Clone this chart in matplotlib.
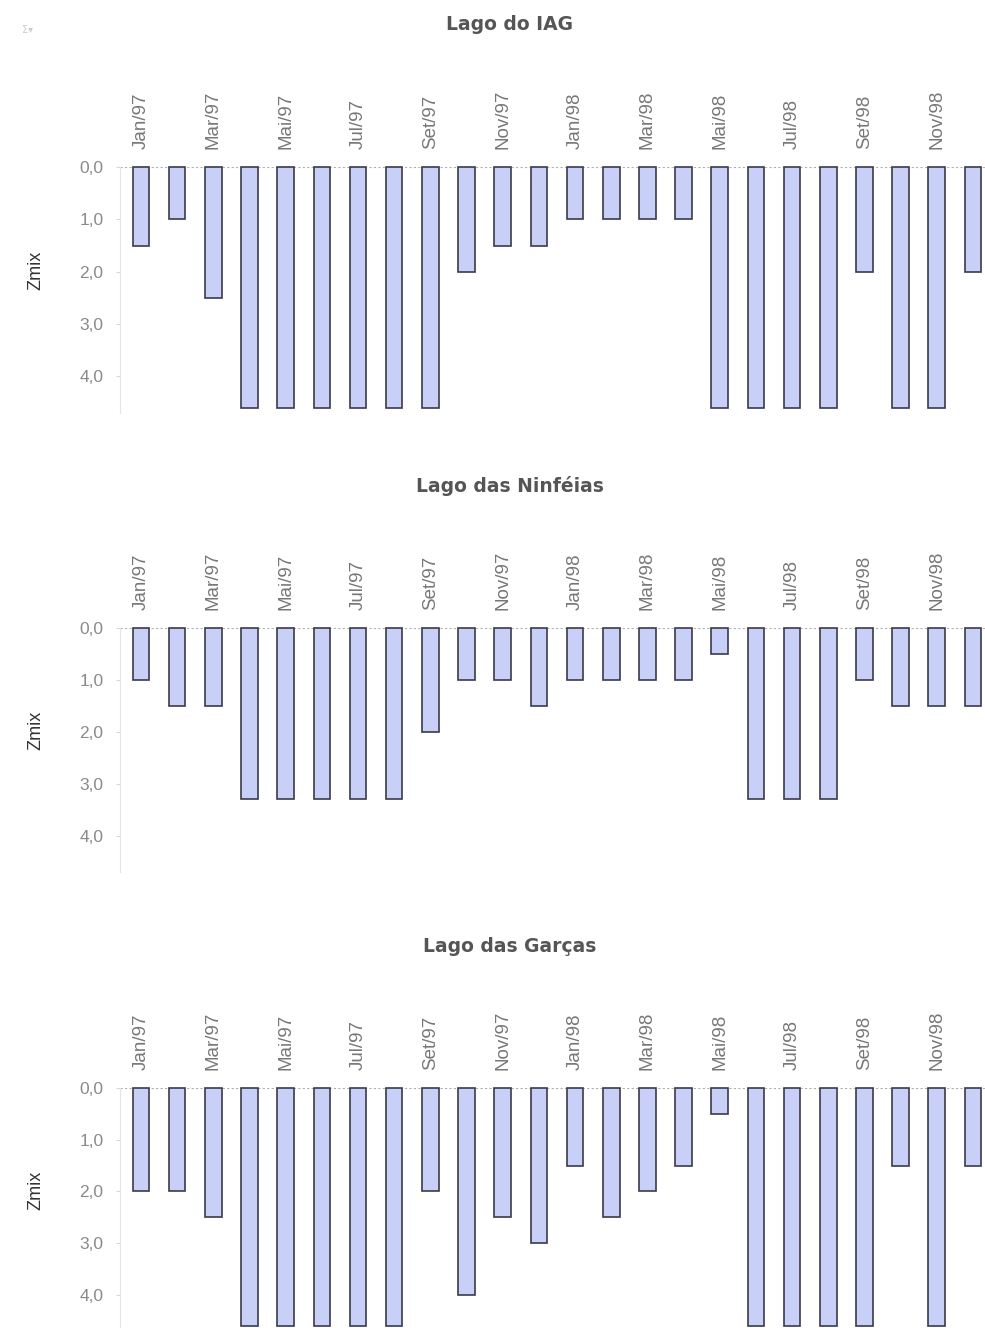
import matplotlib.pyplot as plt

plt.rcParams['font.family'] = ['Liberation Sans', 'DejaVu Sans']

months = ["Jan/97", "Fev/97", "Mar/97", "Abr/97", "Mai/97", "Jun/97",
          "Jul/97", "Ago/97", "Set/97", "Out/97", "Nov/97", "Dez/97",
          "Jan/98", "Fev/98", "Mar/98", "Abr/98", "Mai/98", "Jun/98",
          "Jul/98", "Ago/98", "Set/98", "Out/98", "Nov/98", "Dez/98"]

zmix_iag = [1.5, 1.0, 2.5, 4.6, 4.6, 4.6, 4.6, 4.6, 4.6, 2.0, 1.5, 1.5,
            1.0, 1.0, 1.0, 1.0, 4.6, 4.6, 4.6, 4.6, 2.0, 4.6, 4.6, 2.0]
zmix_ninfeias = [1.0, 1.5, 1.5, 3.3, 3.3, 3.3, 3.3, 3.3, 2.0, 1.0, 1.0, 1.5,
                 1.0, 1.0, 1.0, 1.0, 0.5, 3.3, 3.3, 3.3, 1.0, 1.5, 1.5, 1.5]
zmix_garcas = [2.0, 2.0, 2.5, 4.6, 4.6, 4.6, 4.6, 4.6, 2.0, 4.0, 2.5, 3.0,
               1.5, 2.5, 2.0, 1.5, 0.5, 4.6, 4.6, 4.6, 4.6, 1.5, 4.6, 1.5]

titles = ["Lago do IAG", "Lago das Ninféias", "Lago das Garças"]
series = [zmix_iag, zmix_ninfeias, zmix_garcas]
yticks = [0.0, 1.0, 2.0, 3.0, 4.0]

W, H = 985, 1328
fig = plt.figure(figsize=(W / 100, H / 100), dpi=100)

# top of each panel (y = 0 line) and its bottom, in pixels
panels = [(167, 413), (628, 872), (1088, 1331)]
left = 120

for (top, bottom), title, values in zip(panels, titles, series):
    ax = fig.add_axes([left / W, 1 - bottom / H, (W - left) / W, (bottom - top) / H])
    x = list(range(len(values)))
    ax.bar(x, values, width=0.46, color="#c8d0f8", edgecolor="#3a3a4a",
           linewidth=1.2, clip_on=False, zorder=3)
    ax.set_xlim(-0.58, 23.335)
    ax.set_ylim(4.7, 0)

    ax.axhline(0, color="#b0b0b0", linestyle=(0, (2, 2)), linewidth=0.8, zorder=1)

    ax.xaxis.tick_top()
    ax.set_xticks(x[::2])
    ax.set_xticklabels(months[::2], rotation=90, fontsize=13.5, color="#777777")
    ax.tick_params(axis="x", length=0, pad=13)

    ax.set_yticks(yticks)
    ax.set_yticklabels([f"{v:.1f}".replace(".", ",") for v in yticks],
                       fontsize=12.5, color="#8a8a8a")
    ax.tick_params(axis="y", length=3, color="#d8d8d8", pad=9)

    for side in ["top", "right", "bottom"]:
        ax.spines[side].set_visible(False)
    ax.spines["left"].set_color("#e4e4e4")
    ax.spines["left"].set_linewidth(0.8)

    ax.set_ylabel("Zmix", fontsize=13, color="#333333")
    ax.yaxis.set_label_coords(-0.087, 0.58)

    fig.text(510 / W, 1 - (top - 142) / H, title, ha="center", va="center",
             fontsize=13.5, fontweight="bold", color="#555555",
             family=["DejaVu Sans"])

fig.text(22 / W, 1 - 30 / H, "Σ▾", fontsize=7, color="#cccccc",
         family=["DejaVu Sans"], ha="left", va="center")

plt.savefig("out.png", dpi=100)
